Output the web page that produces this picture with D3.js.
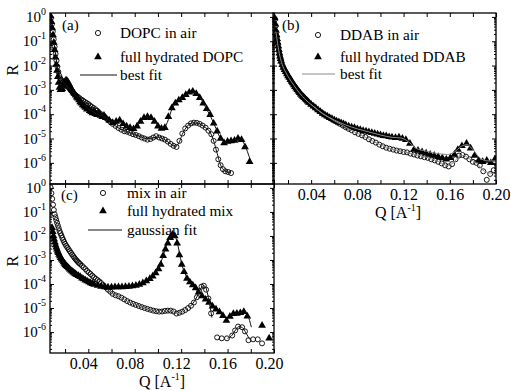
<!DOCTYPE html>
<html><head><meta charset="utf-8">
<script src="https://cdn.jsdelivr.net/npm/d3@7"></script>
<style>body{margin:0;background:#fff}svg{display:block}</style>
</head><body><svg id="chart" width="511" height="391"></svg>
<script>
// ---------------- data (Q in 1/A, R reflectivity) ----------------
const Q_DOMAIN = [0.007, 0.2];
const R_DOMAIN = [1.35e-7, 1.45];
const Q_TICKS = [0.02,0.04,0.06,0.08,0.10,0.12,0.14,0.16,0.18,0.20];
const Q_LABELS = [0.04,0.08,0.12,0.16,0.20];
const R_EXPONENTS = [0,-1,-2,-3,-4,-5,-6];

const dopcAir = [[0.0078,0.9],[0.0086,0.5],[0.0094,0.25],[0.0102,0.12],[0.011,0.06],[0.0118,0.03],[0.0126,0.016],[0.0134,9e-3],[0.0142,5.5e-3],[0.015,3.8e-3],[0.0158,3.0e-3],[0.0166,2.6e-3],[0.0174,2.3e-3],[0.0182,2.1e-3],[0.019,2.0e-3],[0.020,1.8e-3],[0.021,1.6e-3],[0.022,1.4e-3],[0.023,1.25e-3],[0.024,1.1e-3],[0.025,9.5e-4],[0.026,8.5e-4],[0.027,7.5e-4],[0.028,6.6e-4],[0.0295,5.8e-4],[0.031,5.2e-4],[0.0325,4.5e-4],[0.034,4.0e-4],[0.0355,3.6e-4],[0.037,3.2e-4],[0.0385,2.9e-4],[0.040,2.6e-4],[0.0415,2.3e-4],[0.043,2.0e-4],[0.0445,1.8e-4],[0.046,1.6e-4],[0.0475,1.4e-4],[0.049,1.2e-4],[0.051,1.0e-4],[0.053,8.5e-5],[0.055,7.0e-5],[0.057,5.8e-5],[0.059,4.8e-5],[0.061,4.0e-5],[0.0635,3.3e-5],[0.066,2.7e-5],[0.0685,2.3e-5],[0.071,2.0e-5],[0.0735,1.9e-5],[0.076,1.7e-5],[0.0785,1.5e-5],[0.081,1.4e-5],[0.0835,1.25e-5],[0.086,1.1e-5],[0.0885,1.0e-5],[0.091,9.0e-6],[0.0935,9.5e-6],[0.096,1.1e-5],[0.0985,1.25e-5],[0.101,1.1e-5],[0.1035,1.0e-5],[0.106,9.0e-6],[0.1085,7.5e-6],[0.111,6.0e-6],[0.1135,5.0e-6],[0.116,4.5e-6],[0.1185,8.0e-6],[0.121,1.6e-5],[0.1235,2.6e-5],[0.126,3.4e-5],[0.1285,4.2e-5],[0.131,4.5e-5],[0.1335,4.4e-5],[0.136,4.0e-5],[0.1385,3.4e-5],[0.141,2.8e-5],[0.1435,2.1e-5],[0.146,1.5e-5],[0.148,8.0e-6],[0.150,3.5e-6],[0.152,1.4e-6],[0.154,8.0e-7],[0.156,5.5e-7],[0.158,4.5e-7],[0.1605,4.2e-7],[0.163,3.8e-7]];
const dopcHydrated = [[0.0075,1.1],[0.0082,0.63],[0.0089,0.35],[0.0096,0.18],[0.0103,0.089],[0.011,0.045],[0.0117,0.022],[0.0124,0.011],[0.0131,6.3e-3],[0.0138,3.5e-3],[0.0145,2.0e-3],[0.0152,1.26e-3],[0.016,1.0e-3],[0.0168,1.0e-3],[0.0176,1.1e-3],[0.0184,1.4e-3],[0.0192,1.8e-3],[0.02,2.2e-3],[0.0208,2.5e-3],[0.0216,2.4e-3],[0.0224,2.1e-3],[0.0232,1.8e-3],[0.024,1.5e-3],[0.0248,1.26e-3],[0.0256,1.07e-3],[0.0264,9.3e-4],[0.0272,7.9e-4],[0.028,7.1e-4],[0.029,6.0e-4],[0.030,5.0e-4],[0.031,4.5e-4],[0.032,3.8e-4],[0.033,3.2e-4],[0.034,2.8e-4],[0.0352,2.4e-4],[0.0364,2.1e-4],[0.0376,1.9e-4],[0.0388,1.6e-4],[0.040,1.66e-4],[0.0412,1.4e-4],[0.0424,1.26e-4],[0.0436,1.12e-4],[0.0448,1.32e-4],[0.046,1.05e-4],[0.0475,9.5e-5],[0.049,1.12e-4],[0.0505,8.9e-5],[0.052,7.9e-5],[0.0535,8.9e-5],[0.055,7.1e-5],[0.058,5.6e-5],[0.061,4.5e-5],[0.064,5.0e-5],[0.067,5.6e-5],[0.070,4.0e-5],[0.073,3.2e-5],[0.076,2.8e-5],[0.079,2.5e-5],[0.082,3.2e-5],[0.085,5.0e-5],[0.088,7.1e-5],[0.091,7.9e-5],[0.094,7.1e-5],[0.097,5.0e-5],[0.100,3.2e-5],[0.103,2.6e-5],[0.106,2.8e-5],[0.109,7.9e-5],[0.112,1.8e-4],[0.115,2.8e-4],[0.118,3.8e-4],[0.121,4.8e-4],[0.124,6.3e-4],[0.127,7.9e-4],[0.130,8.7e-4],[0.133,6.9e-4],[0.136,4.8e-4],[0.139,2.8e-4],[0.142,1.66e-4],[0.145,9.5e-5],[0.148,4.2e-5],[0.151,2.0e-5],[0.154,1.0e-5],[0.157,6.6e-6],[0.160,7.6e-6],[0.163,7.9e-6],[0.166,8.3e-6],[0.169,1.0e-5],[0.172,8.9e-6],[0.175,4.5e-6],[0.179,1.1e-6]];
const dopcFitAir = [[0.010,0.12],[0.012,0.025],[0.014,6e-3],[0.016,3.0e-3],[0.018,2.2e-3],[0.02,1.8e-3],[0.025,9.5e-4],[0.03,5.6e-4],[0.035,3.8e-4],[0.04,2.6e-4],[0.045,1.7e-4],[0.05,1.1e-4],[0.055,7e-5],[0.06,4.4e-5],[0.065,2.9e-5],[0.07,2.2e-5],[0.075,1.8e-5],[0.08,1.45e-5],[0.085,1.2e-5],[0.09,1.0e-5],[0.095,1.05e-5],[0.1,1.15e-5],[0.105,9.5e-6],[0.11,6.5e-6],[0.115,4.8e-6],[0.118,6.5e-6],[0.121,1.5e-5],[0.125,3.1e-5],[0.13,4.4e-5],[0.135,4.2e-5],[0.14,3.0e-5],[0.145,1.8e-5],[0.148,8e-6],[0.151,2.5e-6],[0.154,8e-7],[0.157,5e-7],[0.162,4e-7]];
const dopcFitHyd = [[0.035,2.6e-4],[0.04,1.7e-4],[0.045,1.15e-4],[0.05,9e-5],[0.055,7.5e-5],[0.06,5e-5],[0.065,5.2e-5],[0.07,4.2e-5],[0.075,3e-5],[0.08,2.7e-5],[0.085,4.8e-5],[0.09,7.5e-5],[0.095,6.5e-5],[0.1,3.5e-5],[0.105,2.7e-5],[0.109,6e-5],[0.112,1.6e-4],[0.116,3.0e-4],[0.12,4.4e-4],[0.125,6.6e-4],[0.13,8.0e-4],[0.134,6.5e-4],[0.138,3.6e-4],[0.142,1.6e-4],[0.146,7e-5],[0.15,2.6e-5],[0.154,1.0e-5],[0.158,7e-6],[0.163,8e-6],[0.169,9.5e-6],[0.173,7.5e-6],[0.177,3e-6],[0.18,1.1e-6]];

const ddabAir = [[0.0088,0.8],[0.0093,0.42],[0.0098,0.23],[0.0103,0.15],[0.0108,0.105],[0.0113,0.075],[0.0118,0.053],[0.0123,0.038],[0.0128,0.028],[0.0133,0.021],[0.0138,0.017],[0.0145,0.013],[0.0155,9.5e-3],[0.0165,7.5e-3],[0.0175,6.1e-3],[0.0185,5.0e-3],[0.0195,4.1e-3],[0.0205,3.4e-3],[0.0215,2.9e-3],[0.0225,2.4e-3],[0.0235,2.0e-3],[0.0245,1.7e-3],[0.0255,1.45e-3],[0.0265,1.25e-3],[0.0275,1.08e-3],[0.0285,9.3e-4],[0.0295,8.0e-4],[0.0305,7.0e-4],[0.0315,6.2e-4],[0.0325,5.5e-4],[0.0335,4.9e-4],[0.0345,4.4e-4],[0.0355,4.0e-4],[0.0365,3.6e-4],[0.0375,3.2e-4],[0.039,2.7e-4],[0.041,2.3e-4],[0.043,1.9e-4],[0.045,1.6e-4],[0.047,1.35e-4],[0.049,1.15e-4],[0.051,9.8e-5],[0.053,8.6e-5],[0.055,7.5e-5],[0.057,6.6e-5],[0.059,5.8e-5],[0.061,5.1e-5],[0.063,4.5e-5],[0.065,4.0e-5],[0.0675,3.4e-5],[0.070,2.9e-5],[0.0725,2.5e-5],[0.075,2.2e-5],[0.078,1.8e-5],[0.081,1.55e-5],[0.084,1.35e-5],[0.087,1.15e-5],[0.090,9.3e-6],[0.093,7.9e-6],[0.096,6.8e-6],[0.099,5.6e-6],[0.102,4.8e-6],[0.105,4.2e-6],[0.108,3.8e-6],[0.111,3.5e-6],[0.114,3.2e-6],[0.117,3.0e-6],[0.120,2.8e-6],[0.123,2.7e-6],[0.126,2.4e-6],[0.129,2.2e-6],[0.132,2.0e-6],[0.135,1.86e-6],[0.138,1.7e-6],[0.141,1.6e-6],[0.144,1.4e-6],[0.147,1.26e-6],[0.150,1.1e-6],[0.153,9.5e-7],[0.156,7.9e-7],[0.159,7.1e-7],[0.162,8.9e-7],[0.165,1.4e-6],[0.168,2.0e-6],[0.171,2.1e-6],[0.174,1.8e-6],[0.177,1.4e-6],[0.180,1.1e-6],[0.183,1.0e-6],[0.186,7.9e-7],[0.189,4.5e-7],[0.192,2.0e-7],[0.195,3.5e-7],[0.198,5.0e-7]];
const ddabHydrated = [[0.0085,0.9],[0.009,0.5],[0.0095,0.28],[0.010,0.18],[0.0105,0.126],[0.011,0.089],[0.0115,0.063],[0.012,0.045],[0.0125,0.032],[0.013,0.024],[0.0135,0.019],[0.014,0.015],[0.015,0.0107],[0.016,8.3e-3],[0.017,6.8e-3],[0.018,5.5e-3],[0.019,4.5e-3],[0.020,3.7e-3],[0.021,3.2e-3],[0.022,2.6e-3],[0.023,2.2e-3],[0.024,1.9e-3],[0.025,1.6e-3],[0.026,1.35e-3],[0.027,1.17e-3],[0.028,1.0e-3],[0.029,8.7e-4],[0.030,7.6e-4],[0.031,6.6e-4],[0.032,5.9e-4],[0.033,5.2e-4],[0.034,4.7e-4],[0.035,4.2e-4],[0.036,3.8e-4],[0.037,3.4e-4],[0.038,3.0e-4],[0.040,2.5e-4],[0.042,2.1e-4],[0.044,1.8e-4],[0.046,1.5e-4],[0.048,1.26e-4],[0.050,1.07e-4],[0.052,9.3e-5],[0.054,8.3e-5],[0.056,7.2e-5],[0.058,6.5e-5],[0.060,5.8e-5],[0.062,5.2e-5],[0.064,4.8e-5],[0.066,4.4e-5],[0.068,4.0e-5],[0.070,3.6e-5],[0.0725,3.2e-5],[0.075,2.95e-5],[0.0775,2.75e-5],[0.080,2.5e-5],[0.0825,2.3e-5],[0.085,2.1e-5],[0.0875,2.0e-5],[0.090,1.86e-5],[0.0925,1.74e-5],[0.095,1.62e-5],[0.0975,1.5e-5],[0.100,1.4e-5],[0.1025,1.3e-5],[0.105,1.26e-5],[0.1075,1.17e-5],[0.110,1.12e-5],[0.113,1.07e-5],[0.116,1.12e-5],[0.119,1.0e-5],[0.122,8.9e-6],[0.1255,6.3e-6],[0.129,3.5e-6],[0.1325,3.2e-6],[0.136,2.8e-6],[0.1395,2.5e-6],[0.143,2.2e-6],[0.1465,2.0e-6],[0.150,1.8e-6],[0.1535,1.6e-6],[0.157,1.4e-6],[0.1605,1.6e-6],[0.164,2.2e-6],[0.167,3.5e-6],[0.1705,5.0e-6],[0.1745,6.3e-6],[0.178,4.0e-6],[0.1815,2.0e-6],[0.185,1.26e-6],[0.1885,1.1e-6],[0.192,1.26e-6],[0.1955,1.0e-6],[0.199,1.4e-6]];
const ddabFitAir = [[0.0095,0.25],[0.011,0.08],[0.013,0.024],[0.015,0.011],[0.018,5.3e-3],[0.021,3.0e-3],[0.025,1.55e-3],[0.03,7.4e-4],[0.035,4.0e-4],[0.04,2.5e-4],[0.045,1.6e-4],[0.05,1.05e-4],[0.055,7.5e-5],[0.06,5.4e-5],[0.065,4e-5],[0.07,2.9e-5],[0.08,1.65e-5],[0.09,9.5e-6],[0.1,5.5e-6],[0.11,3.7e-6],[0.12,2.9e-6],[0.13,2.2e-6],[0.14,1.7e-6],[0.15,1.15e-6],[0.158,7.8e-7],[0.163,1.0e-6],[0.168,1.8e-6],[0.172,2.0e-6],[0.177,1.45e-6],[0.183,1.0e-6],[0.19,4.5e-7],[0.2,3.5e-7]];
const ddabFitHyd = [[0.04,2.5e-4],[0.05,1.07e-4],[0.06,5.8e-5],[0.07,3.6e-5],[0.08,2.5e-5],[0.09,1.86e-5],[0.1,1.4e-5],[0.11,1.12e-5],[0.118,1.05e-5],[0.124,7.5e-6],[0.13,4.2e-6],[0.14,3.0e-6],[0.15,2.4e-6],[0.158,2.2e-6],[0.164,2.8e-6],[0.17,4.8e-6],[0.175,5.6e-6],[0.18,3.5e-6],[0.186,1.6e-6],[0.193,1.2e-6],[0.2,1.2e-6]];

const mixAir = [[0.0075,1.05],[0.0082,0.6],[0.0089,0.35],[0.0096,0.2],[0.0103,0.12],[0.011,0.08],[0.0117,0.06],[0.0124,0.046],[0.0131,0.035],[0.0138,0.027],[0.0145,0.021],[0.0152,0.016],[0.016,0.013],[0.0168,0.0105],[0.0176,8.3e-3],[0.0184,6.8e-3],[0.0192,5.6e-3],[0.020,4.7e-3],[0.021,3.9e-3],[0.022,3.3e-3],[0.023,2.8e-3],[0.024,2.35e-3],[0.025,2.0e-3],[0.026,1.7e-3],[0.027,1.45e-3],[0.028,1.25e-3],[0.029,1.08e-3],[0.030,9.5e-4],[0.031,8.4e-4],[0.032,7.5e-4],[0.033,6.8e-4],[0.0345,5.8e-4],[0.036,4.9e-4],[0.0375,4.2e-4],[0.039,3.5e-4],[0.0405,3.0e-4],[0.042,2.6e-4],[0.0435,2.2e-4],[0.045,1.9e-4],[0.0465,1.65e-4],[0.048,1.45e-4],[0.0495,1.28e-4],[0.051,1.1e-4],[0.053,9.0e-5],[0.055,7.2e-5],[0.057,5.8e-5],[0.059,4.8e-5],[0.061,3.9e-5],[0.0635,3.4e-5],[0.066,3.1e-5],[0.0685,2.7e-5],[0.071,2.3e-5],[0.0735,1.95e-5],[0.076,1.7e-5],[0.0785,1.5e-5],[0.081,1.35e-5],[0.0835,1.22e-5],[0.086,1.1e-5],[0.0885,1.0e-5],[0.091,9.2e-6],[0.0935,8.5e-6],[0.096,7.8e-6],[0.0985,7.4e-6],[0.101,7.1e-6],[0.1035,7.2e-6],[0.106,7.6e-6],[0.1085,7.8e-6],[0.111,7.8e-6],[0.1135,7.2e-6],[0.116,5.9e-6],[0.1185,6.4e-6],[0.121,7.1e-6],[0.1235,8.3e-6],[0.126,1.0e-5],[0.1285,1.25e-5],[0.131,1.7e-5],[0.1335,2.8e-5],[0.1355,5.0e-5],[0.1375,7.8e-5],[0.1395,8.5e-5],[0.1415,5.8e-5],[0.1435,2.5e-5],[0.1458,6e-6],[0.151,6e-7],[0.155,5.5e-7],[0.1595,5.5e-7],[0.164,7.2e-7],[0.1665,1.17e-6],[0.169,1.7e-6],[0.1725,1.6e-6],[0.175,1.07e-6],[0.178,4.6e-7],[0.182,5e-7],[0.186,5e-7],[0.1897,3.4e-7]];
const mixHydrated = [[0.0088,2.2e-2],[0.0094,1.5e-2],[0.010,1.0e-2],[0.0106,7.2e-3],[0.0112,5.4e-3],[0.0118,4.2e-3],[0.0124,3.4e-3],[0.013,2.8e-3],[0.0136,2.3e-3],[0.0142,2.0e-3],[0.0148,1.7e-3],[0.0155,1.45e-3],[0.0162,1.25e-3],[0.017,1.08e-3],[0.0178,9.4e-4],[0.0186,8.2e-4],[0.0194,7.2e-4],[0.0202,6.4e-4],[0.021,5.8e-4],[0.022,5.2e-4],[0.023,4.6e-4],[0.024,4.1e-4],[0.025,3.7e-4],[0.026,3.4e-4],[0.027,3.1e-4],[0.028,2.8e-4],[0.029,2.6e-4],[0.030,2.4e-4],[0.0315,2.2e-4],[0.033,2.0e-4],[0.0345,1.75e-4],[0.036,1.6e-4],[0.0375,1.45e-4],[0.039,1.32e-4],[0.0405,1.2e-4],[0.042,1.1e-4],[0.0435,1.02e-4],[0.045,9.5e-5],[0.048,8.6e-5],[0.051,7.9e-5],[0.054,7.5e-5],[0.057,7.3e-5],[0.060,7.3e-5],[0.063,7.5e-5],[0.066,7.5e-5],[0.069,7.5e-5],[0.072,7.7e-5],[0.075,7.9e-5],[0.078,8.2e-5],[0.081,8.6e-5],[0.084,9.5e-5],[0.087,1.1e-4],[0.090,1.35e-4],[0.093,1.65e-4],[0.0955,2.1e-4],[0.098,2.9e-4],[0.1005,4.2e-4],[0.1025,6.5e-4],[0.1045,1.5e-3],[0.1065,2.8e-3],[0.1085,5.0e-3],[0.1105,8.5e-3],[0.1125,1.15e-2],[0.1145,1.0e-2],[0.1165,5.0e-3],[0.1185,1.6e-3],[0.1205,6.5e-4],[0.1225,3.2e-4],[0.125,1.7e-4],[0.1275,1.2e-4],[0.130,9.0e-5],[0.1325,6.8e-5],[0.135,4.5e-5],[0.138,3.2e-5],[0.141,2.3e-5],[0.144,1.7e-5],[0.147,1.2e-5],[0.150,9e-6],[0.153,6.8e-6],[0.156,4.8e-6],[0.159,3.0e-6],[0.162,4.5e-6],[0.165,5.8e-6],[0.168,5.9e-6],[0.171,6.3e-6],[0.174,7.0e-6],[0.177,4.6e-6],[0.1897,1.9e-6],[0.1958,5.5e-7]];
const mixFitHydPeak1 = [[0.098,2.8e-4],[0.1,4e-4],[0.102,6.5e-4],[0.104,1.3e-3],[0.106,2.6e-3],[0.108,4.8e-3],[0.110,8e-3],[0.112,1.1e-2],[0.1135,1.15e-2],[0.115,9.5e-3],[0.117,4.5e-3],[0.119,1.5e-3],[0.121,5.5e-4],[0.123,3e-4],[0.125,1.8e-4]];
const mixFitAirPeak1 = [[0.128,1.2e-5],[0.131,1.8e-5],[0.134,3.2e-5],[0.1365,6.0e-5],[0.139,8.5e-5],[0.141,7.5e-5],[0.143,3.5e-5],[0.145,1.1e-5],[0.1465,4e-6]];
const mixFitHydPeak2 = [[0.162,4.5e-6],[0.166,5.8e-6],[0.170,6.5e-6],[0.174,6.8e-6],[0.177,5.2e-6],[0.179,3e-6],[0.1805,1.6e-6]];
const mixFitAirPeak2 = [[0.160,5.5e-7],[0.164,7.5e-7],[0.167,1.25e-6],[0.170,1.7e-6],[0.173,1.5e-6],[0.176,9e-7],[0.179,5e-7]];

// ---------------- drawing ----------------
const SERIF = '"Liberation Serif", "Times New Roman", serif';
const svg = d3.select("#chart");
const triPath = d3.symbol().type(d3.symbolTriangle).size(26)();

const panels = [
  { id:"a", xr:[50,274], yr:[184,13], air:dopcAir, hyd:dopcHydrated, fits:[dopcFitAir,dopcFitHyd], fitColor:"#111",
    xLabels:false, yLabels:true, rY:70, tag:"(a)", tagPos:[62,30],
    legend:{cx:98, tx:120, rows:[33,57,75], line:[80,117], texts:["DOPC in air","full hydrated DOPC","best fit"]} },
  { id:"b", xr:[273,496], yr:[184,13], air:ddabAir, hyd:ddabHydrated, fits:[ddabFitAir,ddabFitHyd], fitColor:"#8a8a8a",
    xLabels:true, labelDx:0, qTitleX:398, yLabels:false, tag:"(b)", tagPos:[282,30],
    legend:{cx:318, tx:340, rows:[35,57,74], line:[302,335], texts:["DDAB in air","full hydrated DDAB","best fit"]} },
  { id:"c", xr:[50,274], yr:[353,184], air:mixAir, hyd:mixHydrated, fits:[mixFitHydPeak1,mixFitAirPeak1,mixFitHydPeak2,mixFitAirPeak2], fitColor:"#111",
    xLabels:true, labelDx:-5, qTitleX:162, yLabels:true, rY:261, tag:"(c)", tagPos:[61,200],
    legend:{cx:103, tx:127, rows:[193,211,230], line:[88,122], texts:["mix in air","full hydrated mix","gaussian fit"]} }
];

function styleAxis(s){
  s.select(".domain").remove();
  s.attr("font-family", SERIF).attr("font-size", 16);
  s.selectAll("line").attr("stroke","#000").attr("stroke-width",1);
  s.selectAll("text").attr("fill","#000");
}

panels.forEach(p => {
  const x = d3.scaleLinear().domain(Q_DOMAIN).range(p.xr);
  const y = d3.scaleLog().domain(R_DOMAIN).range(p.yr);
  const g = svg.append("g");
  const clipId = "clip-" + p.id;
  svg.append("clipPath").attr("id", clipId).append("rect")
    .attr("x", p.xr[0]).attr("y", p.yr[1]).attr("width", p.xr[1]-p.xr[0]).attr("height", p.yr[0]-p.yr[1]);
  const plot = g.append("g").attr("clip-path", `url(#${clipId})`);

  plot.append("g").selectAll("circle").data(p.air).join("circle")
    .attr("cx", d => x(d[0])).attr("cy", d => y(d[1])).attr("r", 2.5)
    .attr("fill","none").attr("stroke","#000").attr("stroke-width",0.9);
  plot.append("g").selectAll("path").data(p.hyd).join("path")
    .attr("d", triPath).attr("transform", d => `translate(${x(d[0])},${y(d[1])})`).attr("fill","#000");
  const line = d3.line().x(d => x(d[0])).y(d => y(d[1])).curve(d3.curveMonotoneX);
  p.fits.forEach(f => plot.append("path").datum(f).attr("d", line)
    .attr("fill","none").attr("stroke", p.fitColor).attr("stroke-width", 1));

  // axes (ticks inside)
  const isLabel = d => Q_LABELS.some(v => Math.abs(v - d) < 1e-9);
  const bottom = g.append("g").attr("transform", `translate(0,${p.yr[0]})`)
    .call(d3.axisBottom(x).tickValues(Q_TICKS).tickSize(-4).tickPadding(5)
      .tickFormat(d => p.xLabels && isLabel(d) ? d3.format(".2f")(d) : "")).call(styleAxis);
  if (p.xLabels) bottom.selectAll("text").attr("dx", p.labelDx);
  g.append("g").attr("transform", `translate(0,${p.yr[1]})`)
    .call(d3.axisTop(x).tickValues(Q_TICKS).tickSize(-4).tickFormat("")).call(styleAxis);
  const majors = R_EXPONENTS.map(e => Math.pow(10, e));
  const minors = y.ticks(80).filter(v => !majors.some(m => Math.abs(m - v) / m < 1e-6));
  [[d3.axisLeft, p.xr[0]], [d3.axisRight, p.xr[1]]].forEach(([ax, pos]) => {
    g.append("g").attr("transform", `translate(${pos},0)`)
      .call(ax(y).tickValues(majors).tickSize(-4).tickFormat("")).call(styleAxis);
    g.append("g").attr("transform", `translate(${pos},0)`)
      .call(ax(y).tickValues(minors).tickSize(-2).tickFormat("")).call(styleAxis);
  });
  g.append("rect").attr("x", p.xr[0]).attr("y", p.yr[1])
    .attr("width", p.xr[1]-p.xr[0]).attr("height", p.yr[0]-p.yr[1])
    .attr("fill","none").attr("stroke","#000").attr("stroke-width",1.3);

  if (p.yLabels) {
    R_EXPONENTS.forEach(e => {
      const t = g.append("text").attr("x", 46).attr("y", y(Math.pow(10, e)) + 5)
        .attr("text-anchor","end").attr("font-family", SERIF).attr("font-size", 15);
      t.append("tspan").text("10");
      t.append("tspan").attr("dy", -7).attr("font-size", 10).text(String(e));
    });
    g.append("text").attr("transform", `translate(18,${p.rY}) rotate(-90)`)
      .attr("text-anchor","middle").attr("font-family", SERIF).attr("font-size", 17).text("R");
  }
  if (p.xLabels) {
    const t = g.append("text").attr("x", p.qTitleX).attr("y", p.yr[0] + 34)
      .attr("text-anchor","middle").attr("font-family", SERIF).attr("font-size", 16);
    t.append("tspan").text("Q [A");
    t.append("tspan").attr("dy", -7).attr("font-size", 10).text("-1");
    t.append("tspan").attr("dy", 7).text("]");
  }

  // panel tag and legend
  g.append("text").attr("x", p.tagPos[0]).attr("y", p.tagPos[1])
    .attr("font-family", SERIF).attr("font-size", 15).text(p.tag);
  const L = p.legend;
  g.append("circle").attr("cx", L.cx).attr("cy", L.rows[0]).attr("r", 2.6)
    .attr("fill","none").attr("stroke","#000").attr("stroke-width",0.9);
  g.append("path").attr("d", triPath).attr("transform", `translate(${L.cx},${L.rows[1]})`).attr("fill","#000");
  g.append("line").attr("x1", L.line[0]).attr("x2", L.line[1]).attr("y1", L.rows[2]).attr("y2", L.rows[2])
    .attr("stroke", p.fitColor).attr("stroke-width", 1);
  L.texts.forEach((txt, i) => {
    g.append("text").attr("x", L.tx).attr("y", L.rows[i] + 5)
      .attr("font-family", SERIF).attr("font-size", 15.3).text(txt);
  });
});
</script></body></html>
